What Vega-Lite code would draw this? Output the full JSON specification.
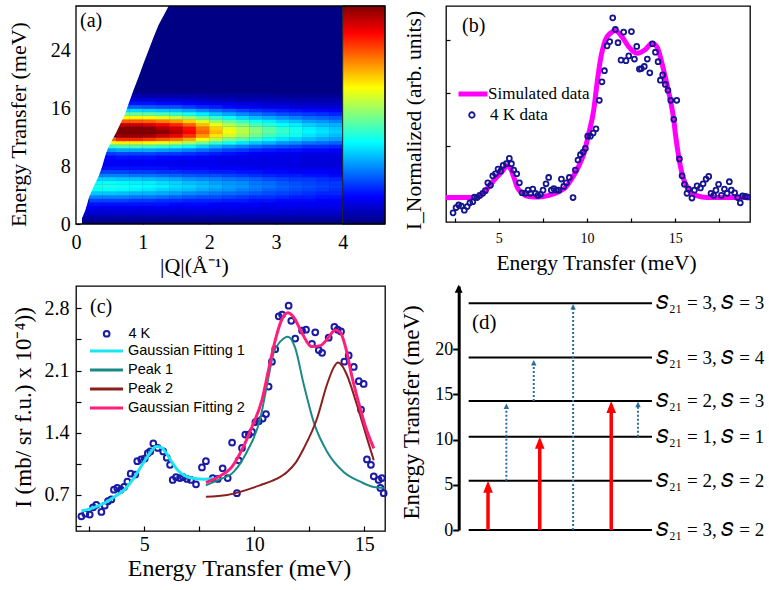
{
  "$schema": "https://vega.github.io/schema/vega-lite/v6.json",
  "padding": {"left": 6, "top": 5, "right": 0, "bottom": 0},
  "background": "white",
  "config": {
    "font": "Liberation Serif",
    "view": {"stroke": null},
    "axis": {"labelFont": "Liberation Serif", "titleFont": "Liberation Serif", "titleFontWeight": "normal", "labelColor": "black", "titleColor": "black", "tickColor": "black", "domainColor": "black", "grid": false, "labelFlush": false, "labelOverlap": false, "labelBound": false, "tickWidth": 1.2, "zindex": 1},
    "legend": {"padding": 0, "labelColor": "black", "labelLimit": 0, "offset": 0}
  },
  "columns": 2,
  "spacing": {"row": 62, "column": 61},
  "bounds": "flush",
  "resolve": {"scale": {"color": "independent", "stroke": "independent"}, "legend": {"color": "independent", "stroke": "independent"}},
  "concat": [
    {
      "width": 309, "height": 218,
      "view": {"stroke": null},
      "layer": [
        {"data": {"values": [{}]}, "mark": {"type": "rect", "color": "#000085"},
         "encoding": {
           "x": {"datum": 0, "type": "quantitative", "scale": {"domain": [0, 4.635], "nice": false, "zero": false},
                 "axis": {"values": [0, 1, 2, 3, 4], "format": "d", "title": "|Q|(Å⁻¹)", "titleFontSize": 22, "titleX": 118, "titleY": 31, "titleBaseline": "top", "titleAlign": "center", "labelFontSize": 20, "tickSize": -4, "labelPadding": 12, "domain": false}},
           "x2": {"datum": 4},
           "y": {"datum": 0, "type": "quantitative", "scale": {"domain": [0, 30.2], "nice": false, "zero": false},
                 "axis": {"values": [0, 8, 16, 24], "format": "d", "title": "Energy Transfer (meV)", "titleFontSize": 22, "titleX": -46, "titleY": 118, "titleBaseline": "bottom", "titleAlign": "center", "labelFontSize": 20, "tickSize": -4, "labelPadding": 9.7, "domain": false}},
           "y2": {"datum": 30.2}}},
        {"data": {"name": "heat"},
         "mark": {"type": "point", "shape": "M-1,-0.29H1V0.29H-1Z", "filled": true, "size": 185, "opacity": 1, "strokeWidth": 0},
         "encoding": {
           "x": {"field": "q", "type": "quantitative"},
           "y": {"field": "e", "type": "quantitative"},
           "color": {"field": "v", "type": "quantitative", "legend": null,
                     "scale": {"domain": [0, 12.5, 37.5, 62.5, 87.5, 100], "range": ["#000080", "#0000ff", "#00ffff", "#ffff00", "#ff0000", "#800000"], "interpolate": "rgb", "clamp": true}}}},
        {"data": {"name": "edge"},
         "mark": {"type": "area", "orient": "horizontal", "color": "white", "opacity": 1},
         "encoding": {
           "y": {"field": "e", "type": "quantitative"},
           "x": {"field": "qm", "type": "quantitative"},
           "x2": {"datum": 0}}},
        {"data": {"values": [{}]},
         "mark": {"type": "rect", "stroke": "#222222", "strokeWidth": 1,
                  "fill": {"gradient": "linear", "x1": 0, "y1": 1, "x2": 0, "y2": 0,
                           "stops": [{"offset": 0, "color": "#000080"}, {"offset": 0.125, "color": "#0000ff"}, {"offset": 0.375, "color": "#00ffff"}, {"offset": 0.625, "color": "#ffff00"}, {"offset": 0.875, "color": "#ff0000"}, {"offset": 1, "color": "#800000"}]}},
         "encoding": {"x": {"datum": 4, "type": "quantitative"}, "x2": {"datum": 4.635}, "y": {"datum": 0, "type": "quantitative"}, "y2": {"datum": 30.2}}},
        {"data": {"values": [{}]},
         "mark": {"type": "rect", "filled": false, "color": "black", "strokeWidth": 1.3},
         "encoding": {"x": {"datum": 0, "type": "quantitative"}, "x2": {"datum": 4.635}, "y": {"datum": 0, "type": "quantitative"}, "y2": {"datum": 30.2}}},
        {"data": {"values": [{"t": "(a)"}]},
         "mark": {"type": "text", "align": "left", "baseline": "middle", "font": "Liberation Serif", "fontSize": 20, "color": "black"},
         "encoding": {"x": {"datum": 0.06, "type": "quantitative"}, "y": {"datum": 28.1, "type": "quantitative"}, "text": {"field": "t"}}}
      ]
    },
    {
      "width": 304, "height": 216,
      "view": {"stroke": "black", "strokeWidth": 1.3},
      "layer": [
        {"data": {"name": "bsim"},
         "mark": {"type": "line", "interpolate": "monotone", "strokeWidth": 5},
         "encoding": {
           "x": {"field": "e", "type": "quantitative", "scale": {"domain": [2.01, 19.24], "nice": false, "zero": false},
                 "axis": {"values": [2.5, 5, 7.5, 10, 12.5, 15, 17.5], "labelExpr": "datum.value % 5 === 0 ? datum.label : ''", "title": "Energy Transfer (meV)", "titleFontSize": 21.5, "titleX": 150, "titleY": 30, "titleBaseline": "top", "titleAlign": "center", "labelFontSize": 14, "tickSize": -4, "labelPadding": 13, "domain": false}},
           "y": {"field": "i", "type": "quantitative", "scale": {"domain": [-0.443, 3.644], "nice": false, "zero": false},
                 "axis": {"values": [0, 1, 2, 3], "labels": false, "title": "I_Normalized (arb. units)", "titleFontSize": 21.5, "titleX": -21, "titleY": 114, "titleBaseline": "bottom", "titleAlign": "center", "tickSize": -4, "domain": false}},
           "color": {"datum": "Simulated data", "scale": {"range": ["#ff00ff"]},
                     "legend": {"orient": "none", "legendX": 10, "legendY": 71, "title": null, "symbolType": "stroke", "symbolSize": 841, "symbolStrokeWidth": 5, "labelFont": "Liberation Serif", "labelFontSize": 17, "labelOffset": -2}}}},
        {"data": {"name": "b4k"},
         "mark": {"type": "point", "filled": false, "size": 24, "strokeWidth": 1.8, "opacity": 1},
         "encoding": {
           "x": {"field": "e", "type": "quantitative"},
           "y": {"field": "i", "type": "quantitative"},
           "stroke": {"datum": "4 K data", "scale": {"range": ["#14148f"]},
                      "legend": {"orient": "none", "legendX": 17.4, "legendY": 100.5, "title": null, "symbolType": "circle", "symbolSize": 30, "symbolStrokeWidth": 1.8, "symbolFillColor": "transparent", "labelFont": "Liberation Serif", "labelFontSize": 17, "labelOffset": 9.7}}}},
        {"data": {"values": [{"t": "(b)"}]},
         "mark": {"type": "text", "align": "left", "baseline": "middle", "font": "Liberation Serif", "fontSize": 20, "color": "black"},
         "encoding": {"x": {"datum": 2.92, "type": "quantitative"}, "y": {"datum": 3.27, "type": "quantitative"}, "text": {"field": "t"}}}
      ]
    },
    {
      "width": 309, "height": 245,
      "view": {"stroke": "black", "strokeWidth": 1.3},
      "resolve": {"axis": {"y": "independent"}},
      "layer": [
        {"data": {"name": "c4k"},
         "mark": {"type": "point", "filled": false, "size": 33, "strokeWidth": 2, "opacity": 1},
         "encoding": {
           "x": {"field": "e", "type": "quantitative", "scale": {"domain": [1.895, 15.94], "nice": false, "zero": false},
                 "axis": {"values": [2.5, 5, 7.5, 10, 12.5, 15], "labelExpr": "datum.value % 5 === 0 ? datum.label : ''", "title": "Energy Transfer (meV)", "titleFontSize": 24, "titleX": 163, "titleY": 25, "titleBaseline": "top", "titleAlign": "center", "labelFontSize": 20, "tickSize": -5, "labelPadding": 8, "domain": false}},
           "y": {"field": "v", "type": "quantitative", "scale": {"domain": [0.295, 3.051], "nice": false, "zero": false},
                 "axis": {"orient": "left", "values": [0.7, 1.4, 2.1, 2.8], "format": ".1f", "title": "I (mb/ sr f.u.) x 10⁻⁴))", "titleFontSize": 23, "titleX": -41, "titleY": 121, "titleBaseline": "bottom", "titleAlign": "center", "labelFontSize": 20, "tickSize": -5, "labelPadding": 12, "domain": false}},
           "stroke": {"datum": "4 K", "scale": {"range": ["#1a1aa6"]},
                      "legend": {"orient": "none", "legendX": 23.4, "legendY": 40.5, "title": null, "symbolType": "circle", "symbolSize": 33, "symbolStrokeWidth": 2, "symbolFillColor": "transparent", "labelFont": "Liberation Sans", "labelFontSize": 14.5, "labelOffset": 14.5}}}},
        {"data": {"values": [{}]},
         "mark": {"type": "point", "opacity": 0},
         "encoding": {
           "x": {"datum": 5, "type": "quantitative"},
           "y": {"datum": 1, "type": "quantitative",
                 "axis": {"orient": "left", "values": [0.35, 1.05, 1.75, 2.45], "labels": false, "title": null, "tickSize": -5, "domain": false}}}},
        {"data": {"name": "cp1"},
         "mark": {"type": "line", "interpolate": "monotone", "strokeWidth": 2},
         "encoding": {
           "x": {"field": "e", "type": "quantitative"},
           "y": {"field": "v", "type": "quantitative", "axis": null},
           "color": {"datum": "Peak 1",
                     "scale": {"domain": ["\u00a0Gaussian Fitting 1", "Peak 1", "Peak 2", "Gaussian Fitting 2"], "range": ["#19e6f2", "#1a8a87", "#8a1f1f", "#ff1f7a"]},
                     "legend": {"orient": "none", "legendX": 12.5, "legendY": 57, "title": null, "symbolType": "stroke", "symbolSize": 1089, "symbolStrokeWidth": 3, "labelFont": "Liberation Sans", "labelFontSize": 14.5, "labelOffset": 3.5, "clipHeight": 16, "rowPadding": 3}}}},
        {"data": {"name": "cp2"},
         "mark": {"type": "line", "interpolate": "monotone", "strokeWidth": 2},
         "encoding": {"x": {"field": "e", "type": "quantitative"}, "y": {"field": "v", "type": "quantitative", "axis": null}, "color": {"datum": "Peak 2"}}},
        {"data": {"name": "cg1"},
         "mark": {"type": "line", "interpolate": "monotone", "strokeWidth": 3},
         "encoding": {"x": {"field": "e", "type": "quantitative"}, "y": {"field": "v", "type": "quantitative", "axis": null}, "color": {"datum": "\u00a0Gaussian Fitting 1"}}},
        {"data": {"name": "cg2"},
         "mark": {"type": "line", "interpolate": "monotone", "strokeWidth": 3},
         "encoding": {"x": {"field": "e", "type": "quantitative"}, "y": {"field": "v", "type": "quantitative", "axis": null}, "color": {"datum": "Gaussian Fitting 2"}}},
        {"data": {"values": [{"t": "(c)"}]},
         "mark": {"type": "text", "align": "left", "baseline": "middle", "font": "Liberation Serif", "fontSize": 20, "color": "black"},
         "encoding": {"x": {"datum": 2.53, "type": "quantitative"}, "y": {"datum": 2.82, "type": "quantitative", "axis": null}, "text": {"field": "t"}}}
      ]
    },
    {
      "width": 206, "height": 244,
      "view": {"stroke": null},
      "layer": [
        {"data": {"name": "levels"},
         "mark": {"type": "rule", "strokeWidth": 2, "color": "black"},
         "encoding": {
           "x": {"datum": 11, "type": "quantitative", "scale": {"domain": [0, 100], "nice": false, "zero": false}, "axis": null},
           "x2": {"datum": 100},
           "y": {"field": "lv", "type": "quantitative", "scale": {"domain": [0, 27], "nice": false, "zero": false},
                 "axis": {"values": [0, 2.5, 5, 7.5, 10, 12.5, 15, 17.5, 20, 22.5], "labelExpr": "datum.value % 5 === 0 ? datum.label : ''", "title": "Energy Transfer (meV)", "titleFontSize": 23, "titleX": -35, "titleY": 126, "titleBaseline": "bottom", "titleAlign": "center", "labelFontSize": 18, "tickSize": 6, "tickWidth": 2, "labelPadding": 0, "domain": true, "domainWidth": 3, "offset": -12.7}}}},
        {"data": {"name": "levels"},
         "mark": {"type": "text", "align": "left", "baseline": "middle", "dx": 4, "font": "Liberation Serif", "fontSize": 19, "color": "black"},
         "encoding": {"x": {"datum": 100, "type": "quantitative"}, "y": {"field": "lv", "type": "quantitative"}, "text": {"field": "lab"}}},
        {"data": {"name": "redup"},
         "mark": {"type": "rule", "color": "#ff0000", "strokeWidth": 3.5, "y2Offset": 6},
         "encoding": {"x": {"field": "x", "type": "quantitative"}, "y": {"field": "from", "type": "quantitative"}, "y2": {"field": "to"}}},
        {"data": {"name": "redup"},
         "mark": {"type": "point", "shape": "M0,0L-0.8,2L0.8,2Z", "size": 144, "filled": true, "opacity": 1, "color": "#ff0000", "strokeWidth": 0},
         "encoding": {"x": {"field": "x", "type": "quantitative"}, "y": {"field": "to", "type": "quantitative"}}},
        {"data": {"name": "dotup"},
         "mark": {"type": "rule", "color": "#2a6ea0", "strokeWidth": 2, "strokeDash": [2, 2], "y2Offset": 3},
         "encoding": {"x": {"field": "x", "type": "quantitative"}, "y": {"field": "from", "type": "quantitative"}, "y2": {"field": "to"}}},
        {"data": {"name": "dotup"},
         "mark": {"type": "point", "shape": "M0,0L-1,2L1,2Z", "size": 30, "filled": true, "opacity": 1, "color": "#2a6ea0", "strokeWidth": 0},
         "encoding": {"x": {"field": "x", "type": "quantitative"}, "y": {"field": "to", "type": "quantitative"}}},
        {"data": {"values": [{}]},
         "mark": {"type": "point", "shape": "M0,0L-1,2L1,2Z", "size": 64, "filled": true, "opacity": 1, "color": "black", "strokeWidth": 0},
         "encoding": {"x": {"datum": 6.17, "type": "quantitative"}, "y": {"datum": 27.15, "type": "quantitative"}}},
        {"data": {"values": [{"t": "(d)"}]},
         "mark": {"type": "text", "align": "left", "baseline": "middle", "font": "Liberation Serif", "fontSize": 21, "color": "black"},
         "encoding": {"x": {"datum": 12.6, "type": "quantitative"}, "y": {"datum": 22.95, "type": "quantitative"}, "text": {"field": "t"}}}
      ]
    }
  ],
  "datasets": {
    "edge": [
      {"e": 0, "qm": 0.09}, {"e": 0.8, "qm": 0.09}, {"e": 1.9, "qm": 0.14}, {"e": 3.8, "qm": 0.2}, {"e": 5.2, "qm": 0.265}, {"e": 6.6, "qm": 0.34}, {"e": 7.9, "qm": 0.39}, {"e": 9.8, "qm": 0.45}, {"e": 10.7, "qm": 0.49}, {"e": 11.6, "qm": 0.54}, {"e": 12.6, "qm": 0.6}, {"e": 13.9, "qm": 0.665}, {"e": 15.3, "qm": 0.74}, {"e": 16.7, "qm": 0.79}, {"e": 18.6, "qm": 0.865}, {"e": 20.4, "qm": 0.94}, {"e": 22.3, "qm": 1.015}, {"e": 24.1, "qm": 1.09}, {"e": 25.9, "qm": 1.165}, {"e": 27.6, "qm": 1.24}, {"e": 28.9, "qm": 1.315}, {"e": 30.2, "qm": 1.39}
    ],
    "heat": [
      {"q":0.1,"e":0.75,"v":3},{"q":0.1,"e":1.25,"v":6},{"q":0.1,"e":1.75,"v":9},{"q":0.1,"e":2.25,"v":11},{"q":0.1,"e":2.75,"v":14},
      {"q":0.3,"e":0.75,"v":3},{"q":0.3,"e":1.25,"v":6},{"q":0.3,"e":1.75,"v":9},{"q":0.3,"e":2.25,"v":11},{"q":0.3,"e":2.75,"v":14},{"q":0.3,"e":3.25,"v":19},{"q":0.3,"e":3.75,"v":25},{"q":0.3,"e":4.25,"v":32},{"q":0.3,"e":4.75,"v":38},{"q":0.3,"e":5.25,"v":40},{"q":0.3,"e":5.75,"v":38},{"q":0.3,"e":6.25,"v":33},{"q":0.3,"e":6.75,"v":25},{"q":0.3,"e":7.25,"v":19},
      {"q":0.5,"e":0.75,"v":3},{"q":0.5,"e":1.25,"v":6},{"q":0.5,"e":1.75,"v":9},{"q":0.5,"e":2.25,"v":11},{"q":0.5,"e":2.75,"v":14},{"q":0.5,"e":3.25,"v":19},{"q":0.5,"e":3.75,"v":25},{"q":0.5,"e":4.25,"v":32},{"q":0.5,"e":4.75,"v":38},{"q":0.5,"e":5.25,"v":40},{"q":0.5,"e":5.75,"v":38},{"q":0.5,"e":6.25,"v":33},{"q":0.5,"e":6.75,"v":25},{"q":0.5,"e":7.25,"v":19},{"q":0.5,"e":7.75,"v":14},{"q":0.5,"e":8.25,"v":12},{"q":0.5,"e":8.75,"v":12},{"q":0.5,"e":9.25,"v":13},{"q":0.5,"e":9.75,"v":18},{"q":0.5,"e":10.25,"v":27},{"q":0.5,"e":10.75,"v":41},{"q":0.5,"e":11.25,"v":60},{"q":0.5,"e":11.75,"v":78},
      {"q":0.7,"e":0.75,"v":3},{"q":0.7,"e":1.25,"v":6},{"q":0.7,"e":1.75,"v":9},{"q":0.7,"e":2.25,"v":11},{"q":0.7,"e":2.75,"v":14},{"q":0.7,"e":3.25,"v":19},{"q":0.7,"e":3.75,"v":25},{"q":0.7,"e":4.25,"v":31},{"q":0.7,"e":4.75,"v":37},{"q":0.7,"e":5.25,"v":39},{"q":0.7,"e":5.75,"v":37},{"q":0.7,"e":6.25,"v":32},{"q":0.7,"e":6.75,"v":25},{"q":0.7,"e":7.25,"v":19},{"q":0.7,"e":7.75,"v":14},{"q":0.7,"e":8.25,"v":12},{"q":0.7,"e":8.75,"v":12},{"q":0.7,"e":9.25,"v":14},{"q":0.7,"e":9.75,"v":19},{"q":0.7,"e":10.25,"v":29},{"q":0.7,"e":10.75,"v":44},{"q":0.7,"e":11.25,"v":64},{"q":0.7,"e":11.75,"v":84},{"q":0.7,"e":12.25,"v":98},{"q":0.7,"e":12.75,"v":100},{"q":0.7,"e":13.25,"v":100},{"q":0.7,"e":13.75,"v":93},{"q":0.7,"e":14.25,"v":79},{"q":0.7,"e":14.75,"v":63},{"q":0.7,"e":15.25,"v":48},{"q":0.7,"e":15.75,"v":34},{"q":0.7,"e":16.25,"v":22},{"q":0.7,"e":16.75,"v":14},{"q":0.7,"e":17.25,"v":9},{"q":0.7,"e":17.75,"v":5},
      {"q":0.9,"e":0.75,"v":3},{"q":0.9,"e":1.25,"v":6},{"q":0.9,"e":1.75,"v":9},{"q":0.9,"e":2.25,"v":11},{"q":0.9,"e":2.75,"v":14},{"q":0.9,"e":3.25,"v":18},{"q":0.9,"e":3.75,"v":24},{"q":0.9,"e":4.25,"v":30},{"q":0.9,"e":4.75,"v":36},{"q":0.9,"e":5.25,"v":38},{"q":0.9,"e":5.75,"v":36},{"q":0.9,"e":6.25,"v":32},{"q":0.9,"e":6.75,"v":24},{"q":0.9,"e":7.25,"v":18},{"q":0.9,"e":7.75,"v":14},{"q":0.9,"e":8.25,"v":12},{"q":0.9,"e":8.75,"v":12},{"q":0.9,"e":9.25,"v":14},{"q":0.9,"e":9.75,"v":19},{"q":0.9,"e":10.25,"v":29},{"q":0.9,"e":10.75,"v":44},{"q":0.9,"e":11.25,"v":64},{"q":0.9,"e":11.75,"v":84},{"q":0.9,"e":12.25,"v":98},{"q":0.9,"e":12.75,"v":100},{"q":0.9,"e":13.25,"v":100},{"q":0.9,"e":13.75,"v":93},{"q":0.9,"e":14.25,"v":79},{"q":0.9,"e":14.75,"v":63},{"q":0.9,"e":15.25,"v":48},{"q":0.9,"e":15.75,"v":34},{"q":0.9,"e":16.25,"v":22},{"q":0.9,"e":16.75,"v":14},{"q":0.9,"e":17.25,"v":9},{"q":0.9,"e":17.75,"v":5},
      {"q":1.1,"e":0.75,"v":3},{"q":1.1,"e":1.25,"v":6},{"q":1.1,"e":1.75,"v":9},{"q":1.1,"e":2.25,"v":11},{"q":1.1,"e":2.75,"v":14},{"q":1.1,"e":3.25,"v":18},{"q":1.1,"e":3.75,"v":24},{"q":1.1,"e":4.25,"v":30},{"q":1.1,"e":4.75,"v":35},{"q":1.1,"e":5.25,"v":37},{"q":1.1,"e":5.75,"v":36},{"q":1.1,"e":6.25,"v":31},{"q":1.1,"e":6.75,"v":24},{"q":1.1,"e":7.25,"v":18},{"q":1.1,"e":7.75,"v":14},{"q":1.1,"e":8.25,"v":12},{"q":1.1,"e":8.75,"v":12},{"q":1.1,"e":9.25,"v":14},{"q":1.1,"e":9.75,"v":19},{"q":1.1,"e":10.25,"v":29},{"q":1.1,"e":10.75,"v":43},{"q":1.1,"e":11.25,"v":63},{"q":1.1,"e":11.75,"v":82},{"q":1.1,"e":12.25,"v":97},{"q":1.1,"e":12.75,"v":100},{"q":1.1,"e":13.25,"v":100},{"q":1.1,"e":13.75,"v":91},{"q":1.1,"e":14.25,"v":78},{"q":1.1,"e":14.75,"v":62},{"q":1.1,"e":15.25,"v":47},{"q":1.1,"e":15.75,"v":33},{"q":1.1,"e":16.25,"v":21},{"q":1.1,"e":16.75,"v":14},{"q":1.1,"e":17.25,"v":9},{"q":1.1,"e":17.75,"v":4},
      {"q":1.3,"e":0.75,"v":3},{"q":1.3,"e":1.25,"v":6},{"q":1.3,"e":1.75,"v":9},{"q":1.3,"e":2.25,"v":11},{"q":1.3,"e":2.75,"v":14},{"q":1.3,"e":3.25,"v":17},{"q":1.3,"e":3.75,"v":23},{"q":1.3,"e":4.25,"v":29},{"q":1.3,"e":4.75,"v":33},{"q":1.3,"e":5.25,"v":36},{"q":1.3,"e":5.75,"v":34},{"q":1.3,"e":6.25,"v":30},{"q":1.3,"e":6.75,"v":23},{"q":1.3,"e":7.25,"v":17},{"q":1.3,"e":7.75,"v":14},{"q":1.3,"e":8.25,"v":11},{"q":1.3,"e":8.75,"v":12},{"q":1.3,"e":9.25,"v":13},{"q":1.3,"e":9.75,"v":18},{"q":1.3,"e":10.25,"v":28},{"q":1.3,"e":10.75,"v":42},{"q":1.3,"e":11.25,"v":60},{"q":1.3,"e":11.75,"v":79},{"q":1.3,"e":12.25,"v":93},{"q":1.3,"e":12.75,"v":99},{"q":1.3,"e":13.25,"v":96},{"q":1.3,"e":13.75,"v":88},{"q":1.3,"e":14.25,"v":75},{"q":1.3,"e":14.75,"v":60},{"q":1.3,"e":15.25,"v":45},{"q":1.3,"e":15.75,"v":32},{"q":1.3,"e":16.25,"v":20},{"q":1.3,"e":16.75,"v":13},{"q":1.3,"e":17.25,"v":8},{"q":1.3,"e":17.75,"v":4},
      {"q":1.5,"e":0.75,"v":3},{"q":1.5,"e":1.25,"v":6},{"q":1.5,"e":1.75,"v":9},{"q":1.5,"e":2.25,"v":11},{"q":1.5,"e":2.75,"v":13},{"q":1.5,"e":3.25,"v":17},{"q":1.5,"e":3.75,"v":22},{"q":1.5,"e":4.25,"v":28},{"q":1.5,"e":4.75,"v":32},{"q":1.5,"e":5.25,"v":34},{"q":1.5,"e":5.75,"v":33},{"q":1.5,"e":6.25,"v":29},{"q":1.5,"e":6.75,"v":22},{"q":1.5,"e":7.25,"v":17},{"q":1.5,"e":7.75,"v":13},{"q":1.5,"e":8.25,"v":11},{"q":1.5,"e":8.75,"v":11},{"q":1.5,"e":9.25,"v":13},{"q":1.5,"e":9.75,"v":18},{"q":1.5,"e":10.25,"v":27},{"q":1.5,"e":10.75,"v":40},{"q":1.5,"e":11.25,"v":58},{"q":1.5,"e":11.75,"v":76},{"q":1.5,"e":12.25,"v":89},{"q":1.5,"e":12.75,"v":95},{"q":1.5,"e":13.25,"v":92},{"q":1.5,"e":13.75,"v":84},{"q":1.5,"e":14.25,"v":72},{"q":1.5,"e":14.75,"v":57},{"q":1.5,"e":15.25,"v":43},{"q":1.5,"e":15.75,"v":31},{"q":1.5,"e":16.25,"v":20},{"q":1.5,"e":16.75,"v":13},{"q":1.5,"e":17.25,"v":8},{"q":1.5,"e":17.75,"v":4},
      {"q":1.7,"e":0.75,"v":3},{"q":1.7,"e":1.25,"v":6},{"q":1.7,"e":1.75,"v":9},{"q":1.7,"e":2.25,"v":11},{"q":1.7,"e":2.75,"v":13},{"q":1.7,"e":3.25,"v":16},{"q":1.7,"e":3.75,"v":21},{"q":1.7,"e":4.25,"v":26},{"q":1.7,"e":4.75,"v":31},{"q":1.7,"e":5.25,"v":33},{"q":1.7,"e":5.75,"v":31},{"q":1.7,"e":6.25,"v":27},{"q":1.7,"e":6.75,"v":21},{"q":1.7,"e":7.25,"v":16},{"q":1.7,"e":7.75,"v":13},{"q":1.7,"e":8.25,"v":11},{"q":1.7,"e":8.75,"v":11},{"q":1.7,"e":9.25,"v":13},{"q":1.7,"e":9.75,"v":17},{"q":1.7,"e":10.25,"v":25},{"q":1.7,"e":10.75,"v":37},{"q":1.7,"e":11.25,"v":54},{"q":1.7,"e":11.75,"v":71},{"q":1.7,"e":12.25,"v":83},{"q":1.7,"e":12.75,"v":88},{"q":1.7,"e":13.25,"v":86},{"q":1.7,"e":13.75,"v":78},{"q":1.7,"e":14.25,"v":67},{"q":1.7,"e":14.75,"v":53},{"q":1.7,"e":15.25,"v":40},{"q":1.7,"e":15.75,"v":29},{"q":1.7,"e":16.25,"v":18},{"q":1.7,"e":16.75,"v":12},{"q":1.7,"e":17.25,"v":8},{"q":1.7,"e":17.75,"v":4},
      {"q":1.9,"e":0.75,"v":3},{"q":1.9,"e":1.25,"v":6},{"q":1.9,"e":1.75,"v":9},{"q":1.9,"e":2.25,"v":11},{"q":1.9,"e":2.75,"v":13},{"q":1.9,"e":3.25,"v":16},{"q":1.9,"e":3.75,"v":20},{"q":1.9,"e":4.25,"v":25},{"q":1.9,"e":4.75,"v":29},{"q":1.9,"e":5.25,"v":31},{"q":1.9,"e":5.75,"v":30},{"q":1.9,"e":6.25,"v":26},{"q":1.9,"e":6.75,"v":20},{"q":1.9,"e":7.25,"v":16},{"q":1.9,"e":7.75,"v":13},{"q":1.9,"e":8.25,"v":11},{"q":1.9,"e":8.75,"v":11},{"q":1.9,"e":9.25,"v":12},{"q":1.9,"e":9.75,"v":16},{"q":1.9,"e":10.25,"v":23},{"q":1.9,"e":10.75,"v":33},{"q":1.9,"e":11.25,"v":48},{"q":1.9,"e":11.75,"v":63},{"q":1.9,"e":12.25,"v":73},{"q":1.9,"e":12.75,"v":78},{"q":1.9,"e":13.25,"v":76},{"q":1.9,"e":13.75,"v":69},{"q":1.9,"e":14.25,"v":59},{"q":1.9,"e":14.75,"v":47},{"q":1.9,"e":15.25,"v":36},{"q":1.9,"e":15.75,"v":26},{"q":1.9,"e":16.25,"v":16},{"q":1.9,"e":16.75,"v":11},{"q":1.9,"e":17.25,"v":7},{"q":1.9,"e":17.75,"v":4},
      {"q":2.1,"e":0.75,"v":3},{"q":2.1,"e":1.25,"v":6},{"q":2.1,"e":1.75,"v":9},{"q":2.1,"e":2.25,"v":11},{"q":2.1,"e":2.75,"v":12},{"q":2.1,"e":3.25,"v":16},{"q":2.1,"e":3.75,"v":20},{"q":2.1,"e":4.25,"v":24},{"q":2.1,"e":4.75,"v":28},{"q":2.1,"e":5.25,"v":30},{"q":2.1,"e":5.75,"v":28},{"q":2.1,"e":6.25,"v":25},{"q":2.1,"e":6.75,"v":20},{"q":2.1,"e":7.25,"v":15},{"q":2.1,"e":7.75,"v":12},{"q":2.1,"e":8.25,"v":11},{"q":2.1,"e":8.75,"v":11},{"q":2.1,"e":9.25,"v":11},{"q":2.1,"e":9.75,"v":15},{"q":2.1,"e":10.25,"v":21},{"q":2.1,"e":10.75,"v":30},{"q":2.1,"e":11.25,"v":43},{"q":2.1,"e":11.75,"v":56},{"q":2.1,"e":12.25,"v":65},{"q":2.1,"e":12.75,"v":69},{"q":2.1,"e":13.25,"v":67},{"q":2.1,"e":13.75,"v":61},{"q":2.1,"e":14.25,"v":52},{"q":2.1,"e":14.75,"v":42},{"q":2.1,"e":15.25,"v":32},{"q":2.1,"e":15.75,"v":23},{"q":2.1,"e":16.25,"v":15},{"q":2.1,"e":16.75,"v":10},{"q":2.1,"e":17.25,"v":6},{"q":2.1,"e":17.75,"v":3},
      {"q":2.3,"e":0.75,"v":3},{"q":2.3,"e":1.25,"v":6},{"q":2.3,"e":1.75,"v":9},{"q":2.3,"e":2.25,"v":11},{"q":2.3,"e":2.75,"v":12},{"q":2.3,"e":3.25,"v":15},{"q":2.3,"e":3.75,"v":19},{"q":2.3,"e":4.25,"v":23},{"q":2.3,"e":4.75,"v":27},{"q":2.3,"e":5.25,"v":28},{"q":2.3,"e":5.75,"v":27},{"q":2.3,"e":6.25,"v":24},{"q":2.3,"e":6.75,"v":19},{"q":2.3,"e":7.25,"v":15},{"q":2.3,"e":7.75,"v":12},{"q":2.3,"e":8.25,"v":10},{"q":2.3,"e":8.75,"v":10},{"q":2.3,"e":9.25,"v":11},{"q":2.3,"e":9.75,"v":14},{"q":2.3,"e":10.25,"v":19},{"q":2.3,"e":10.75,"v":27},{"q":2.3,"e":11.25,"v":39},{"q":2.3,"e":11.75,"v":50},{"q":2.3,"e":12.25,"v":58},{"q":2.3,"e":12.75,"v":62},{"q":2.3,"e":13.25,"v":60},{"q":2.3,"e":13.75,"v":55},{"q":2.3,"e":14.25,"v":47},{"q":2.3,"e":14.75,"v":38},{"q":2.3,"e":15.25,"v":29},{"q":2.3,"e":15.75,"v":21},{"q":2.3,"e":16.25,"v":13},{"q":2.3,"e":16.75,"v":9},{"q":2.3,"e":17.25,"v":6},{"q":2.3,"e":17.75,"v":3},
      {"q":2.5,"e":0.75,"v":3},{"q":2.5,"e":1.25,"v":6},{"q":2.5,"e":1.75,"v":9},{"q":2.5,"e":2.25,"v":10},{"q":2.5,"e":2.75,"v":12},{"q":2.5,"e":3.25,"v":15},{"q":2.5,"e":3.75,"v":18},{"q":2.5,"e":4.25,"v":22},{"q":2.5,"e":4.75,"v":25},{"q":2.5,"e":5.25,"v":27},{"q":2.5,"e":5.75,"v":26},{"q":2.5,"e":6.25,"v":23},{"q":2.5,"e":6.75,"v":18},{"q":2.5,"e":7.25,"v":14},{"q":2.5,"e":7.75,"v":12},{"q":2.5,"e":8.25,"v":10},{"q":2.5,"e":8.75,"v":10},{"q":2.5,"e":9.25,"v":10},{"q":2.5,"e":9.75,"v":13},{"q":2.5,"e":10.25,"v":18},{"q":2.5,"e":10.75,"v":25},{"q":2.5,"e":11.25,"v":35},{"q":2.5,"e":11.75,"v":46},{"q":2.5,"e":12.25,"v":53},{"q":2.5,"e":12.75,"v":56},{"q":2.5,"e":13.25,"v":55},{"q":2.5,"e":13.75,"v":50},{"q":2.5,"e":14.25,"v":43},{"q":2.5,"e":14.75,"v":34},{"q":2.5,"e":15.25,"v":26},{"q":2.5,"e":15.75,"v":19},{"q":2.5,"e":16.25,"v":12},{"q":2.5,"e":16.75,"v":8},{"q":2.5,"e":17.25,"v":5},{"q":2.5,"e":17.75,"v":3},
      {"q":2.7,"e":0.75,"v":3},{"q":2.7,"e":1.25,"v":6},{"q":2.7,"e":1.75,"v":9},{"q":2.7,"e":2.25,"v":10},{"q":2.7,"e":2.75,"v":12},{"q":2.7,"e":3.25,"v":14},{"q":2.7,"e":3.75,"v":17},{"q":2.7,"e":4.25,"v":21},{"q":2.7,"e":4.75,"v":24},{"q":2.7,"e":5.25,"v":25},{"q":2.7,"e":5.75,"v":24},{"q":2.7,"e":6.25,"v":22},{"q":2.7,"e":6.75,"v":17},{"q":2.7,"e":7.25,"v":14},{"q":2.7,"e":7.75,"v":11},{"q":2.7,"e":8.25,"v":10},{"q":2.7,"e":8.75,"v":10},{"q":2.7,"e":9.25,"v":10},{"q":2.7,"e":9.75,"v":12},{"q":2.7,"e":10.25,"v":16},{"q":2.7,"e":10.75,"v":23},{"q":2.7,"e":11.25,"v":32},{"q":2.7,"e":11.75,"v":42},{"q":2.7,"e":12.25,"v":48},{"q":2.7,"e":12.75,"v":51},{"q":2.7,"e":13.25,"v":50},{"q":2.7,"e":13.75,"v":45},{"q":2.7,"e":14.25,"v":39},{"q":2.7,"e":14.75,"v":31},{"q":2.7,"e":15.25,"v":24},{"q":2.7,"e":15.75,"v":17},{"q":2.7,"e":16.25,"v":11},{"q":2.7,"e":16.75,"v":8},{"q":2.7,"e":17.25,"v":5},{"q":2.7,"e":17.75,"v":3},
      {"q":2.9,"e":0.75,"v":3},{"q":2.9,"e":1.25,"v":6},{"q":2.9,"e":1.75,"v":9},{"q":2.9,"e":2.25,"v":10},{"q":2.9,"e":2.75,"v":11},{"q":2.9,"e":3.25,"v":14},{"q":2.9,"e":3.75,"v":17},{"q":2.9,"e":4.25,"v":20},{"q":2.9,"e":4.75,"v":22},{"q":2.9,"e":5.25,"v":24},{"q":2.9,"e":5.75,"v":23},{"q":2.9,"e":6.25,"v":20},{"q":2.9,"e":6.75,"v":16},{"q":2.9,"e":7.25,"v":13},{"q":2.9,"e":7.75,"v":11},{"q":2.9,"e":8.25,"v":10},{"q":2.9,"e":8.75,"v":10},{"q":2.9,"e":9.25,"v":10},{"q":2.9,"e":9.75,"v":12},{"q":2.9,"e":10.25,"v":15},{"q":2.9,"e":10.75,"v":21},{"q":2.9,"e":11.25,"v":30},{"q":2.9,"e":11.75,"v":38},{"q":2.9,"e":12.25,"v":44},{"q":2.9,"e":12.75,"v":47},{"q":2.9,"e":13.25,"v":46},{"q":2.9,"e":13.75,"v":42},{"q":2.9,"e":14.25,"v":36},{"q":2.9,"e":14.75,"v":29},{"q":2.9,"e":15.25,"v":22},{"q":2.9,"e":15.75,"v":16},{"q":2.9,"e":16.25,"v":10},{"q":2.9,"e":16.75,"v":7},{"q":2.9,"e":17.25,"v":5},{"q":2.9,"e":17.75,"v":3},
      {"q":3.1,"e":0.75,"v":3},{"q":3.1,"e":1.25,"v":6},{"q":3.1,"e":1.75,"v":8},{"q":3.1,"e":2.25,"v":10},{"q":3.1,"e":2.75,"v":11},{"q":3.1,"e":3.25,"v":13},{"q":3.1,"e":3.75,"v":16},{"q":3.1,"e":4.25,"v":19},{"q":3.1,"e":4.75,"v":21},{"q":3.1,"e":5.25,"v":22},{"q":3.1,"e":5.75,"v":21},{"q":3.1,"e":6.25,"v":19},{"q":3.1,"e":6.75,"v":15},{"q":3.1,"e":7.25,"v":13},{"q":3.1,"e":7.75,"v":11},{"q":3.1,"e":8.25,"v":10},{"q":3.1,"e":8.75,"v":10},{"q":3.1,"e":9.25,"v":10},{"q":3.1,"e":9.75,"v":11},{"q":3.1,"e":10.25,"v":14},{"q":3.1,"e":10.75,"v":20},{"q":3.1,"e":11.25,"v":27},{"q":3.1,"e":11.75,"v":35},{"q":3.1,"e":12.25,"v":40},{"q":3.1,"e":12.75,"v":43},{"q":3.1,"e":13.25,"v":42},{"q":3.1,"e":13.75,"v":38},{"q":3.1,"e":14.25,"v":33},{"q":3.1,"e":14.75,"v":27},{"q":3.1,"e":15.25,"v":20},{"q":3.1,"e":15.75,"v":15},{"q":3.1,"e":16.25,"v":10},{"q":3.1,"e":16.75,"v":7},{"q":3.1,"e":17.25,"v":5},{"q":3.1,"e":17.75,"v":2},
      {"q":3.3,"e":0.75,"v":3},{"q":3.3,"e":1.25,"v":6},{"q":3.3,"e":1.75,"v":8},{"q":3.3,"e":2.25,"v":10},{"q":3.3,"e":2.75,"v":11},{"q":3.3,"e":3.25,"v":13},{"q":3.3,"e":3.75,"v":15},{"q":3.3,"e":4.25,"v":18},{"q":3.3,"e":4.75,"v":20},{"q":3.3,"e":5.25,"v":21},{"q":3.3,"e":5.75,"v":20},{"q":3.3,"e":6.25,"v":18},{"q":3.3,"e":6.75,"v":15},{"q":3.3,"e":7.25,"v":12},{"q":3.3,"e":7.75,"v":10},{"q":3.3,"e":8.25,"v":10},{"q":3.3,"e":8.75,"v":10},{"q":3.3,"e":9.25,"v":10},{"q":3.3,"e":9.75,"v":11},{"q":3.3,"e":10.25,"v":14},{"q":3.3,"e":10.75,"v":19},{"q":3.3,"e":11.25,"v":26},{"q":3.3,"e":11.75,"v":33},{"q":3.3,"e":12.25,"v":38},{"q":3.3,"e":12.75,"v":40},{"q":3.3,"e":13.25,"v":39},{"q":3.3,"e":13.75,"v":36},{"q":3.3,"e":14.25,"v":31},{"q":3.3,"e":14.75,"v":25},{"q":3.3,"e":15.25,"v":19},{"q":3.3,"e":15.75,"v":14},{"q":3.3,"e":16.25,"v":9},{"q":3.3,"e":16.75,"v":6},{"q":3.3,"e":17.25,"v":4},{"q":3.3,"e":17.75,"v":2},
      {"q":3.5,"e":0.75,"v":3},{"q":3.5,"e":1.25,"v":6},{"q":3.5,"e":1.75,"v":8},{"q":3.5,"e":2.25,"v":10},{"q":3.5,"e":2.75,"v":11},{"q":3.5,"e":3.25,"v":13},{"q":3.5,"e":3.75,"v":15},{"q":3.5,"e":4.25,"v":17},{"q":3.5,"e":4.75,"v":19},{"q":3.5,"e":5.25,"v":20},{"q":3.5,"e":5.75,"v":19},{"q":3.5,"e":6.25,"v":18},{"q":3.5,"e":6.75,"v":14},{"q":3.5,"e":7.25,"v":12},{"q":3.5,"e":7.75,"v":10},{"q":3.5,"e":8.25,"v":9},{"q":3.5,"e":8.75,"v":9},{"q":3.5,"e":9.25,"v":9},{"q":3.5,"e":9.75,"v":10},{"q":3.5,"e":10.25,"v":13},{"q":3.5,"e":10.75,"v":17},{"q":3.5,"e":11.25,"v":24},{"q":3.5,"e":11.75,"v":31},{"q":3.5,"e":12.25,"v":35},{"q":3.5,"e":12.75,"v":37},{"q":3.5,"e":13.25,"v":36},{"q":3.5,"e":13.75,"v":33},{"q":3.5,"e":14.25,"v":28},{"q":3.5,"e":14.75,"v":23},{"q":3.5,"e":15.25,"v":18},{"q":3.5,"e":15.75,"v":13},{"q":3.5,"e":16.25,"v":9},{"q":3.5,"e":16.75,"v":6},{"q":3.5,"e":17.25,"v":4},{"q":3.5,"e":17.75,"v":2},
      {"q":3.7,"e":0.75,"v":3},{"q":3.7,"e":1.25,"v":6},{"q":3.7,"e":1.75,"v":8},{"q":3.7,"e":2.25,"v":10},{"q":3.7,"e":2.75,"v":11},{"q":3.7,"e":3.25,"v":12},{"q":3.7,"e":3.75,"v":14},{"q":3.7,"e":4.25,"v":16},{"q":3.7,"e":4.75,"v":18},{"q":3.7,"e":5.25,"v":19},{"q":3.7,"e":5.75,"v":18},{"q":3.7,"e":6.25,"v":17},{"q":3.7,"e":6.75,"v":14},{"q":3.7,"e":7.25,"v":12},{"q":3.7,"e":7.75,"v":10},{"q":3.7,"e":8.25,"v":9},{"q":3.7,"e":8.75,"v":9},{"q":3.7,"e":9.25,"v":9},{"q":3.7,"e":9.75,"v":10},{"q":3.7,"e":10.25,"v":13},{"q":3.7,"e":10.75,"v":17},{"q":3.7,"e":11.25,"v":23},{"q":3.7,"e":11.75,"v":29},{"q":3.7,"e":12.25,"v":33},{"q":3.7,"e":12.75,"v":35},{"q":3.7,"e":13.25,"v":34},{"q":3.7,"e":13.75,"v":31},{"q":3.7,"e":14.25,"v":27},{"q":3.7,"e":14.75,"v":22},{"q":3.7,"e":15.25,"v":17},{"q":3.7,"e":15.75,"v":13},{"q":3.7,"e":16.25,"v":8},{"q":3.7,"e":16.75,"v":6},{"q":3.7,"e":17.25,"v":4},{"q":3.7,"e":17.75,"v":2},
      {"q":3.9,"e":0.75,"v":3},{"q":3.9,"e":1.25,"v":6},{"q":3.9,"e":1.75,"v":8},{"q":3.9,"e":2.25,"v":10},{"q":3.9,"e":2.75,"v":11},{"q":3.9,"e":3.25,"v":12},{"q":3.9,"e":3.75,"v":14},{"q":3.9,"e":4.25,"v":16},{"q":3.9,"e":4.75,"v":17},{"q":3.9,"e":5.25,"v":18},{"q":3.9,"e":5.75,"v":18},{"q":3.9,"e":6.25,"v":16},{"q":3.9,"e":6.75,"v":13},{"q":3.9,"e":7.25,"v":11},{"q":3.9,"e":7.75,"v":10},{"q":3.9,"e":8.25,"v":9},{"q":3.9,"e":8.75,"v":9},{"q":3.9,"e":9.25,"v":9},{"q":3.9,"e":9.75,"v":10},{"q":3.9,"e":10.25,"v":12},{"q":3.9,"e":10.75,"v":16},{"q":3.9,"e":11.25,"v":22},{"q":3.9,"e":11.75,"v":28},{"q":3.9,"e":12.25,"v":31},{"q":3.9,"e":12.75,"v":33},{"q":3.9,"e":13.25,"v":32},{"q":3.9,"e":13.75,"v":30},{"q":3.9,"e":14.25,"v":25},{"q":3.9,"e":14.75,"v":21},{"q":3.9,"e":15.25,"v":16},{"q":3.9,"e":15.75,"v":12},{"q":3.9,"e":16.25,"v":8},{"q":3.9,"e":16.75,"v":6},{"q":3.9,"e":17.25,"v":4},{"q":3.9,"e":17.75,"v":2}
    ],
    "bsim": [
      {"e":2.01,"i":0.02},{"e":3.77,"i":0.02},{"e":4.06,"i":0.08},{"e":4.43,"i":0.22},{"e":4.81,"i":0.38},{"e":5.19,"i":0.51},{"e":5.47,"i":0.62},{"e":5.66,"i":0.57},{"e":5.85,"i":0.41},{"e":6.04,"i":0.22},{"e":6.32,"i":0.1},{"e":6.7,"i":0.04},{"e":7.27,"i":0.03},{"e":7.83,"i":0.06},{"e":8.4,"i":0.13},{"e":8.78,"i":0.21},{"e":9.15,"i":0.38},{"e":9.53,"i":0.61},{"e":9.82,"i":0.85},{"e":10.1,"i":1.23},{"e":10.38,"i":1.67},{"e":10.57,"i":2.18},{"e":10.76,"i":2.62},{"e":11.04,"i":3.0},{"e":11.33,"i":3.13},{"e":11.61,"i":3.18},{"e":11.99,"i":3.06},{"e":12.37,"i":2.87},{"e":12.84,"i":2.75},{"e":13.31,"i":2.82},{"e":13.69,"i":2.94},{"e":13.97,"i":2.87},{"e":14.25,"i":2.56},{"e":14.48,"i":2.24},{"e":14.73,"i":1.86},{"e":14.92,"i":1.49},{"e":15.01,"i":1.23},{"e":15.2,"i":0.79},{"e":15.39,"i":0.47},{"e":15.67,"i":0.22},{"e":15.95,"i":0.1},{"e":16.52,"i":0.03},{"e":17.09,"i":0.02},{"e":19.24,"i":0.02}
    ],
    "b4k": [
      {"e":2.41,"i":-0.27},{"e":2.58,"i":-0.17},{"e":2.73,"i":-0.12},{"e":2.88,"i":-0.14},{"e":3.05,"i":-0.22},{"e":3.21,"i":-0.15},{"e":3.36,"i":-0.08},{"e":3.53,"i":-0.06},{"e":3.62,"i":0.03},{"e":3.77,"i":0.02},{"e":3.92,"i":0.06},{"e":4.09,"i":0.1},{"e":4.24,"i":0.15},{"e":4.38,"i":0.3},{"e":4.53,"i":0.25},{"e":4.66,"i":0.43},{"e":4.81,"i":0.47},{"e":4.96,"i":0.56},{"e":5.11,"i":0.52},{"e":5.25,"i":0.63},{"e":5.43,"i":0.66},{"e":5.6,"i":0.76},{"e":5.72,"i":0.66},{"e":5.85,"i":0.54},{"e":6.02,"i":0.47},{"e":6.17,"i":0.3},{"e":6.32,"i":0.11},{"e":6.51,"i":0.1},{"e":6.66,"i":0.16},{"e":6.79,"i":0.1},{"e":6.93,"i":0.18},{"e":7.08,"i":0.1},{"e":7.21,"i":0.06},{"e":7.36,"i":0.08},{"e":7.51,"i":0.16},{"e":7.68,"i":0.28},{"e":7.83,"i":0.4},{"e":7.98,"i":0.16},{"e":8.12,"i":0.19},{"e":8.27,"i":0.16},{"e":8.4,"i":0.16},{"e":8.55,"i":0.37},{"e":8.68,"i":0.23},{"e":8.83,"i":0.3},{"e":9.0,"i":0.4},{"e":9.21,"i":0.02},{"e":9.34,"i":0.54},{"e":9.49,"i":0.73},{"e":9.63,"i":0.83},{"e":9.78,"i":0.88},{"e":9.91,"i":0.95},{"e":10.04,"i":1.18},{"e":10.19,"i":1.18},{"e":10.35,"i":1.24},{"e":10.51,"i":1.32},{"e":10.7,"i":1.86},{"e":10.85,"i":2.21},{"e":10.99,"i":2.42},{"e":11.14,"i":2.89},{"e":11.29,"i":2.97},{"e":11.46,"i":3.42},{"e":11.61,"i":3.2},{"e":11.76,"i":2.95},{"e":11.93,"i":2.62},{"e":12.08,"i":3.15},{"e":12.21,"i":2.61},{"e":12.37,"i":2.7},{"e":12.52,"i":3.16},{"e":12.69,"i":2.64},{"e":12.82,"i":2.88},{"e":12.97,"i":2.45},{"e":13.08,"i":2.46},{"e":13.25,"i":2.5},{"e":13.42,"i":2.64},{"e":13.56,"i":2.38},{"e":13.71,"i":2.93},{"e":13.88,"i":2.77},{"e":14.03,"i":2.59},{"e":14.16,"i":2.24},{"e":14.29,"i":2.34},{"e":14.44,"i":2.16},{"e":14.59,"i":2.05},{"e":14.75,"i":1.86},{"e":14.92,"i":1.5},{"e":15.09,"i":1.86},{"e":15.24,"i":0.75},{"e":15.39,"i":0.43},{"e":15.52,"i":0.27},{"e":15.67,"i":0.1},{"e":15.76,"i":0.18},{"e":15.95,"i":0.01},{"e":16.09,"i":0.16},{"e":16.24,"i":0.24},{"e":16.43,"i":0.2},{"e":16.58,"i":0.28},{"e":16.75,"i":0.37},{"e":16.9,"i":0.42},{"e":17.03,"i":0.1},{"e":17.18,"i":0.06},{"e":17.31,"i":0.16},{"e":17.46,"i":0.27},{"e":17.62,"i":0.06},{"e":17.79,"i":0.18},{"e":17.94,"i":0.1},{"e":18.07,"i":0.32},{"e":18.18,"i":0.16},{"e":18.37,"i":0.11},{"e":18.54,"i":0.02},{"e":18.69,"i":-0.08},{"e":18.82,"i":0.05},{"e":18.98,"i":0.04},{"e":19.11,"i":0.03}
    ],
    "c4k": [
      {"e":2.14,"v":0.46},{"e":2.32,"v":0.49},{"e":2.52,"v":0.48},{"e":2.67,"v":0.56},{"e":2.82,"v":0.59},{"e":3.05,"v":0.51},{"e":3.2,"v":0.58},{"e":3.35,"v":0.63},{"e":3.5,"v":0.65},{"e":3.62,"v":0.76},{"e":3.77,"v":0.78},{"e":3.93,"v":0.76},{"e":4.08,"v":0.79},{"e":4.23,"v":0.85},{"e":4.38,"v":0.94},{"e":4.59,"v":0.93},{"e":4.68,"v":1.08},{"e":4.86,"v":1.1},{"e":5.02,"v":1.11},{"e":5.16,"v":1.17},{"e":5.27,"v":1.19},{"e":5.41,"v":1.28},{"e":5.61,"v":1.23},{"e":5.86,"v":1.19},{"e":6.02,"v":1.12},{"e":6.17,"v":1.04},{"e":6.29,"v":0.87},{"e":6.44,"v":0.9},{"e":6.62,"v":0.89},{"e":6.77,"v":0.9},{"e":6.94,"v":0.88},{"e":7.12,"v":0.87},{"e":7.35,"v":0.82},{"e":7.62,"v":1.01},{"e":7.8,"v":1.08},{"e":8.11,"v":0.89},{"e":8.34,"v":0.88},{"e":8.56,"v":1.0},{"e":8.79,"v":0.89},{"e":8.99,"v":1.29},{"e":9.21,"v":0.72},{"e":9.29,"v":1.09},{"e":9.44,"v":1.23},{"e":9.59,"v":1.38},{"e":9.75,"v":1.38},{"e":9.9,"v":1.41},{"e":10.05,"v":1.52},{"e":10.2,"v":1.53},{"e":10.38,"v":1.56},{"e":10.53,"v":1.61},{"e":10.65,"v":1.92},{"e":10.8,"v":2.2},{"e":10.95,"v":2.34},{"e":11.11,"v":2.71},{"e":11.26,"v":2.73},{"e":11.56,"v":2.83},{"e":11.68,"v":2.66},{"e":11.86,"v":2.46},{"e":12.17,"v":2.55},{"e":12.35,"v":2.56},{"e":12.62,"v":2.4},{"e":12.77,"v":2.53},{"e":12.93,"v":2.33},{"e":13.08,"v":2.3},{"e":13.38,"v":2.47},{"e":13.64,"v":2.59},{"e":13.79,"v":2.56},{"e":13.94,"v":2.54},{"e":14.09,"v":2.2},{"e":14.29,"v":2.27},{"e":14.52,"v":2.14},{"e":14.75,"v":1.98},{"e":14.85,"v":1.66},{"e":14.97,"v":1.95},{"e":15.12,"v":1.1},{"e":15.3,"v":1.04},{"e":15.43,"v":0.91},{"e":15.65,"v":0.87},{"e":15.73,"v":0.78},{"e":15.8,"v":0.89},{"e":15.88,"v":0.72}
    ],
    "cg1": [
      {"e":2.14,"v":0.52},{"e":2.6,"v":0.55},{"e":3.2,"v":0.61},{"e":3.65,"v":0.68},{"e":4.1,"v":0.76},{"e":4.55,"v":0.9},{"e":4.95,"v":1.06},{"e":5.25,"v":1.17},{"e":5.55,"v":1.245},{"e":5.8,"v":1.23},{"e":6.0,"v":1.17},{"e":6.25,"v":1.07},{"e":6.55,"v":0.97},{"e":6.9,"v":0.91},{"e":7.3,"v":0.885},{"e":7.7,"v":0.877},{"e":8.15,"v":0.89}
    ],
    "cg2": [
      {"e":7.8,"v":0.84},{"e":8.38,"v":0.905},{"e":8.99,"v":1.02},{"e":9.44,"v":1.21},{"e":9.9,"v":1.47},{"e":10.35,"v":1.77},{"e":10.65,"v":2.11},{"e":10.95,"v":2.44},{"e":11.26,"v":2.68},{"e":11.53,"v":2.75},{"e":11.79,"v":2.7},{"e":12.17,"v":2.52},{"e":12.6,"v":2.37},{"e":13.0,"v":2.38},{"e":13.3,"v":2.45},{"e":13.68,"v":2.556},{"e":13.91,"v":2.53},{"e":14.14,"v":2.37},{"e":14.44,"v":2.03},{"e":14.75,"v":1.73},{"e":15.05,"v":1.47},{"e":15.43,"v":1.225}
    ],
    "cp1": [
      {"e":7.8,"v":0.81},{"e":8.38,"v":0.87},{"e":9.06,"v":0.96},{"e":9.67,"v":1.19},{"e":10.27,"v":1.56},{"e":10.58,"v":1.94},{"e":10.88,"v":2.3},{"e":11.2,"v":2.43},{"e":11.53,"v":2.48},{"e":11.85,"v":2.36},{"e":12.25,"v":1.94},{"e":12.7,"v":1.52},{"e":13.3,"v":1.19},{"e":14.06,"v":0.96},{"e":14.82,"v":0.85},{"e":15.43,"v":0.79},{"e":15.88,"v":0.78}
    ],
    "cp2": [
      {"e":7.8,"v":0.68},{"e":8.76,"v":0.7},{"e":10.27,"v":0.81},{"e":11.0,"v":0.88},{"e":11.49,"v":0.96},{"e":11.9,"v":1.07},{"e":12.25,"v":1.225},{"e":12.85,"v":1.56},{"e":13.3,"v":1.94},{"e":13.6,"v":2.13},{"e":13.8,"v":2.19},{"e":14.0,"v":2.15},{"e":14.21,"v":2.05},{"e":14.67,"v":1.71},{"e":15.12,"v":1.34},{"e":15.43,"v":1.09}
    ],
    "levels": [
      {"lv":0,"lab":"𝑆₂₁ = 3, 𝑆 = 2"},{"lv":5.46,"lab":"𝑆₂₁ = 2, 𝑆 = 2"},{"lv":10.33,"lab":"𝑆₂₁ = 1, 𝑆 = 1"},{"lv":14.28,"lab":"𝑆₂₁ = 2, 𝑆 = 3"},{"lv":19.08,"lab":"𝑆₂₁ = 3, 𝑆 = 4"},{"lv":25.1,"lab":"𝑆₂₁ = 3, 𝑆 = 3"}
    ],
    "redup": [
      {"x":20.4,"from":0,"to":5.46},{"x":45.5,"from":0,"to":10.33},{"x":80.2,"from":0,"to":14.28}
    ],
    "dotup": [
      {"x":29.3,"from":5.46,"to":14.0},{"x":42.6,"from":14.28,"to":18.8},{"x":61.7,"from":0,"to":25.0},{"x":93.2,"from":10.33,"to":14.2}
    ]
  }
}
